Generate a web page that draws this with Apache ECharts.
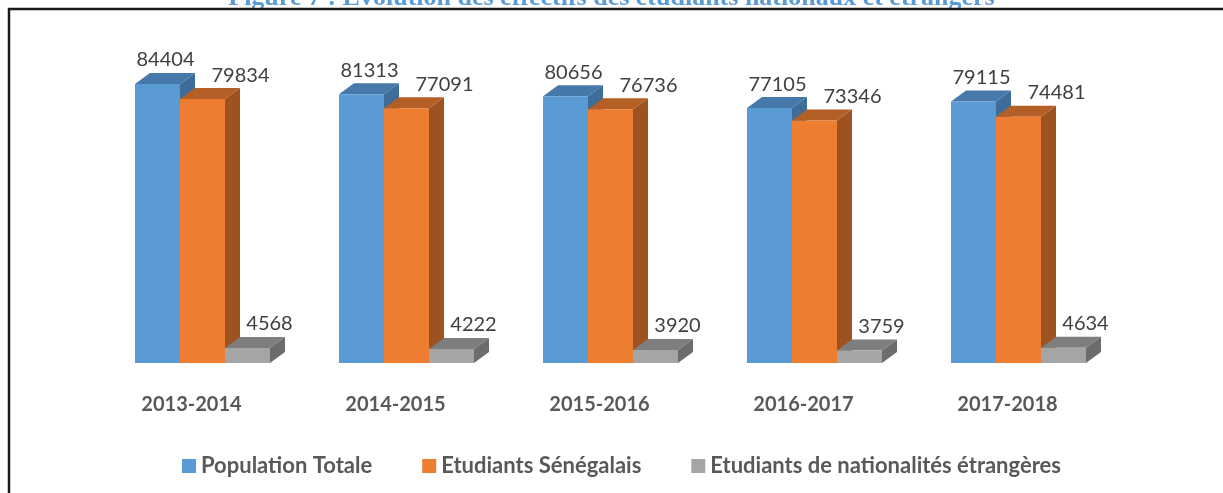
<!DOCTYPE html>
<html>
<head>
<meta charset="utf-8">
<script src="https://cdn.jsdelivr.net/npm/echarts@6/dist/echarts.min.js"></script>
<style>
  html, body { margin: 0; padding: 0; background: #fff; }
  #main { width: 1223px; height: 493px; }
</style>
</head>
<body>
<div id="main"></div>
<script>
// données
const categories = ['2013-2014', '2014-2015', '2015-2016', '2016-2017', '2017-2018']
const seriesNames = ['Population Totale', 'Etudiants Sénégalais', 'Etudiants de nationalités étrangères']
const populationTotale = [84404, 81313, 80656, 77105, 79115]
const etudiantsSenegalais = [79834, 77091, 76736, 73346, 74481]
const etudiantsEtrangers = [4568, 4222, 3920, 3759, 4634]

// face avant, dessus, côté
const palettes = [
  ['#5B9BD5', '#4678A9', '#3F6D99'],
  ['#ED7D31', '#B45F25', '#9E521F'],
  ['#A5A5A5', '#7E7E7E', '#6C6C6C']
]
const labelShift = [8, 38, 22] // décalage horizontal des étiquettes (comme Excel)

const chart = echarts.init(document.getElementById('main'))

function make3dBar (idx) {
  return function (params, api) {
    const cat = api.value(0)
    const val = api.value(1)
    const band = api.size([1, 0])[0]
    const barW = band * 0.2206
    const center = api.coord([cat, 0])[0]
    const base = api.coord([cat, 0])[1]
    const top = api.coord([cat, val])[1]
    const x0 = center - barW * 1.5 + idx * barW
    const x1 = x0 + barW
    const dx = 15
    const dy = -11
    const pal = palettes[idx]
    return {
      type: 'group',
      children: [
        {
          type: 'polygon',
          shape: { points: [[x1, top], [x1 + dx, top + dy], [x1 + dx, base + dy], [x1, base]] },
          style: { fill: pal[2] }
        },
        {
          type: 'polygon',
          shape: { points: [[x0, top], [x0 + dx, top + dy], [x1 + dx, top + dy], [x1, top]] },
          style: { fill: pal[1] }
        },
        {
          type: 'rect',
          shape: { x: x0, y: top, width: barW, height: base - top },
          style: { fill: pal[0] }
        },
        {
          type: 'text',
          style: {
            text: String(val),
            x: x0 + barW / 2 + labelShift[idx],
            y: top - 24,
            align: 'center',
            verticalAlign: 'middle',
            fill: '#404040',
            font: '20px Lato'
          }
        }
      ]
    }
  }
}

const allValues = [populationTotale, etudiantsSenegalais, etudiantsEtrangers]

const option = {
  animation: false,
  title: {
    text: 'Figure 7 : Evolution des effectifs des étudiants nationaux et étrangers',
    left: 'center',
    top: -20,
    textStyle: {
      fontFamily: 'Liberation Serif',
      fontWeight: 'bold',
      fontSize: 26,
      color: '#5B9BD5'
    }
  },
  graphic: [
    {
      type: 'rect',
      shape: { x: 9, y: 9, width: 1400, height: 700 },
      style: { fill: 'none', stroke: '#1a1a1a', lineWidth: 2.5 },
      z: 10
    }
  ],
  legend: {
    data: seriesNames.map((n, i) => ({ name: n, itemStyle: { color: palettes[i][0] } })),
    left: 177,
    top: 450,
    icon: 'rect',
    itemWidth: 14,
    itemHeight: 14,
    itemGap: 50,
    textStyle: {
      fontFamily: 'Lato',
      fontWeight: 'bold',
      fontSize: 22,
      color: '#595959'
    }
  },
  grid: {
    left: 100.5,
    right: 102.5,
    top: 32.4,
    bottom: 130
  },
  xAxis: {
    type: 'category',
    data: categories,
    axisLine: { show: false },
    axisTick: { show: false },
    axisLabel: {
      margin: 32,
      padding: [0, 22, 0, 0],
      fontFamily: 'Lato',
      fontWeight: 'bold',
      fontSize: 20,
      color: '#595959'
    }
  },
  yAxis: {
    type: 'value',
    min: 0,
    max: 100000,
    show: false
  },
  series: allValues.map((vals, i) => ({
    type: 'custom',
    name: seriesNames[i],
    itemStyle: { color: palettes[i][0] },
    renderItem: make3dBar(i),
    data: vals.map((v, k) => [k, v])
  }))
}

chart.setOption(option)
</script>
</body>
</html>
